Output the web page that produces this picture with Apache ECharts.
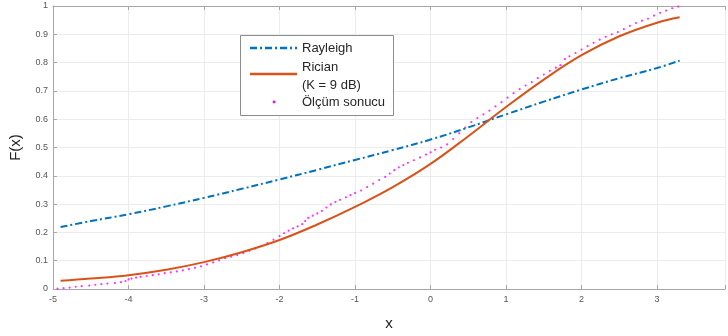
<!DOCTYPE html>
<html>
<head>
<meta charset="utf-8">
<script src="https://cdn.jsdelivr.net/npm/echarts@6/dist/echarts.min.js"></script>
<style>
  html, body { margin: 0; padding: 0; background: #fff; }
  #chart { width: 728px; height: 336px; }
</style>
</head>
<body>
<div id="chart"></div>
<script>
// x noktaları (dB)
var lineX = [-4.9, -4.5, -4, -3.5, -3, -2.5, -2, -1.5, -1, -0.5, 0, 0.5, 1, 1.5, 2, 2.5, 3, 3.3];
// Rayleigh CDF
var rayleighF = [0.219, 0.240, 0.264, 0.292, 0.322, 0.354, 0.387, 0.421, 0.456, 0.491, 0.528, 0.571, 0.617, 0.662, 0.705, 0.745, 0.781, 0.807];
// Rician CDF (K = 9 dB)
var ricianF = [0.029, 0.037, 0.049, 0.068, 0.095, 0.130, 0.173, 0.228, 0.290, 0.360, 0.442, 0.540, 0.643, 0.740, 0.826, 0.893, 0.941, 0.960];

// ölçüm sonucu (empirik CDF)
var measX = [-4.94, -4.86, -4.78, -4.70, -4.62, -4.52, -4.44, -4.36, -4.28, -4.18, -4.10, -4.04, -4.00, -3.96, -3.90, -3.84, -3.76, -3.68, -3.60, -3.52,
  -3.44, -3.36, -3.28, -3.20, -3.12, -3.04, -2.96, -2.88, -2.80, -2.72, -2.64, -2.56, -2.48, -2.40, -2.32, -2.24, -2.16, -2.08, -2.00, -1.94,
  -1.88, -1.82, -1.76, -1.70, -1.66, -1.62, -1.56, -1.50, -1.44, -1.38, -1.32, -1.26, -1.20, -1.12, -1.06, -1.00, -0.92, -0.84, -0.76, -0.68,
  -0.60, -0.54, -0.48, -0.42, -0.36, -0.30, -0.22, -0.14, -0.06, 0.00, 0.06, 0.14, 0.22, 0.30, 0.38, 0.46, 0.54, 0.62, 0.70, 0.78,
  0.86, 0.94, 1.02, 1.10, 1.18, 1.26, 1.34, 1.42, 1.50, 1.58, 1.66, 1.72, 1.78, 1.84, 1.92, 2.00, 2.08, 2.16, 2.24, 2.32,
  2.40, 2.48, 2.56, 2.64, 2.72, 2.80, 2.88, 2.96, 3.04, 3.12, 3.20, 3.28];
var measF = [0.001, 0.003, 0.005, 0.008, 0.010, 0.012, 0.015, 0.017, 0.019, 0.021, 0.024, 0.028, 0.034, 0.037, 0.040, 0.043, 0.046, 0.049, 0.052, 0.056,
  0.059, 0.062, 0.066, 0.070, 0.075, 0.080, 0.087, 0.094, 0.101, 0.109, 0.114, 0.120, 0.127, 0.135, 0.143, 0.152, 0.162, 0.174, 0.187, 0.197,
  0.206, 0.214, 0.221, 0.229, 0.240, 0.251, 0.259, 0.267, 0.276, 0.288, 0.299, 0.307, 0.315, 0.324, 0.332, 0.339, 0.348, 0.360, 0.372, 0.385,
  0.396, 0.408, 0.420, 0.430, 0.438, 0.446, 0.455, 0.465, 0.475, 0.483, 0.492, 0.500, 0.511, 0.530, 0.550, 0.570, 0.590, 0.604, 0.617, 0.630,
  0.645, 0.660, 0.676, 0.692, 0.706, 0.719, 0.731, 0.745, 0.758, 0.771, 0.782, 0.791, 0.812, 0.822, 0.834, 0.846, 0.858, 0.870, 0.881, 0.891,
  0.900, 0.908, 0.918, 0.930, 0.940, 0.948, 0.955, 0.966, 0.976, 0.984, 0.992, 0.998];

function pairs(xs, ys) {
  return xs.map(function (x, i) { return [x, ys[i]]; });
}

var axisGray = '#a6a6a6';
var labelStyle = { color: '#555', fontSize: 9, fontFamily: 'Liberation Sans' };

var myChart = echarts.init(document.getElementById('chart'));
myChart.setOption({
  animation: false,
  grid: { left: 52, top: 6, right: 1, bottom: 45 },
  xAxis: [{
    type: 'value', min: -5, max: 3.9, interval: 1,
    name: 'x', nameLocation: 'middle', nameGap: 27,
    nameTextStyle: { fontSize: 15, color: '#222', fontFamily: 'Liberation Sans' },
    axisLine: { onZero: false, lineStyle: { color: axisGray } },
    axisTick: { inside: true, length: 4, lineStyle: { color: axisGray } },
    axisLabel: Object.assign({ margin: 6, formatter: function (v) { return Number.isInteger(v) ? v : ''; } }, labelStyle),
    splitLine: { lineStyle: { color: '#ececec' } }
  }, {
    type: 'value', min: -5, max: 3.9, interval: 1, position: 'top',
    axisLine: { show: true, onZero: false, lineStyle: { color: axisGray } },
    axisTick: { inside: true, length: 4, lineStyle: { color: axisGray } },
    axisLabel: { show: false },
    splitLine: { show: false }
  }],
  yAxis: {
    type: 'value', min: 0, max: 1, interval: 0.1,
    name: 'F(x)', nameLocation: 'middle', nameGap: 30, nameRotate: 90,
    nameTextStyle: { fontSize: 15, color: '#222', fontFamily: 'Liberation Sans' },
    axisLine: { show: true, onZero: false, lineStyle: { color: axisGray } },
    axisTick: { show: true, inside: true, length: 4, lineStyle: { color: axisGray } },
    axisLabel: Object.assign({ margin: 5 }, labelStyle),
    splitLine: { lineStyle: { color: '#ececec' } }
  },
  series: [{
    name: 'Rayleigh', type: 'line', smooth: 0.4, symbol: 'none',
    data: pairs(lineX, rayleighF),
    lineStyle: { color: '#0072BD', width: 2, type: [7, 3, 2, 3] }
  }, {
    name: 'Rician', type: 'line', smooth: 0.4, symbol: 'none',
    data: pairs(lineX, ricianF),
    lineStyle: { color: '#D95319', width: 2 }
  }, {
    name: 'Ölçüm sonucu', type: 'scatter', symbol: 'circle', symbolSize: 2.2,
    data: pairs(measX, measF),
    itemStyle: { color: '#FF00FF' }
  }],
  // lejant kutusu
  graphic: [
    { type: 'rect', shape: { x: 240.5, y: 35.5, width: 153, height: 80 }, style: { fill: '#fff', stroke: '#8c8c8c', lineWidth: 1 }, z: 100 },
    { type: 'line', shape: { x1: 250, y1: 48, x2: 297, y2: 48 }, style: { stroke: '#0072BD', lineWidth: 2.5, lineDash: [7, 3, 2, 3] }, z: 101 },
    { type: 'text', x: 302, y: 48, style: { text: 'Rayleigh', fill: '#262626', fontSize: 13, fontFamily: 'Liberation Sans', verticalAlign: 'middle' }, z: 101 },
    { type: 'line', shape: { x1: 250, y1: 74, x2: 297, y2: 74 }, style: { stroke: '#D95319', lineWidth: 2.5 }, z: 101 },
    { type: 'text', x: 302, y: 67, style: { text: 'Rician', fill: '#262626', fontSize: 13, fontFamily: 'Liberation Sans', verticalAlign: 'middle' }, z: 101 },
    { type: 'text', x: 302, y: 85, style: { text: '(K = 9 dB)', fill: '#262626', fontSize: 13, fontFamily: 'Liberation Sans', verticalAlign: 'middle' }, z: 101 },
    { type: 'circle', shape: { cx: 274, cy: 102, r: 1.4 }, style: { fill: '#FF00FF' }, z: 101 },
    { type: 'text', x: 302, y: 102, style: { text: 'Ölçüm sonucu', fill: '#262626', fontSize: 13, fontFamily: 'Liberation Sans', verticalAlign: 'middle' }, z: 101 }
  ]
});
</script>
</body>
</html>
